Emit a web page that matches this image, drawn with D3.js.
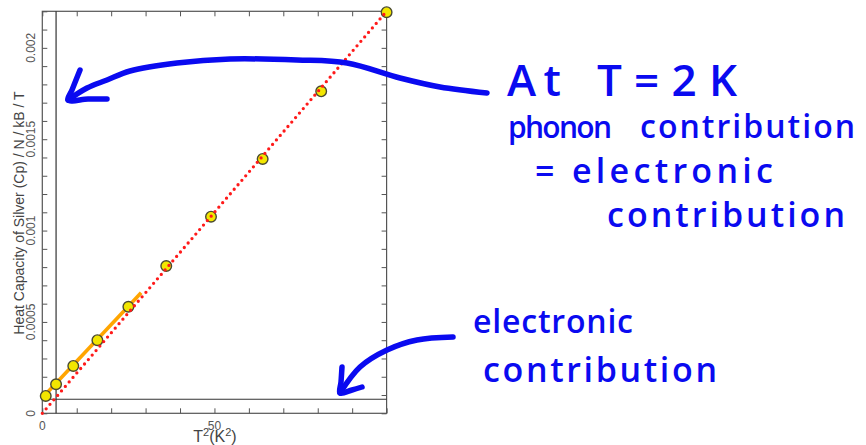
<!DOCTYPE html>
<html>
<head>
<meta charset="utf-8">
<script src="https://cdn.jsdelivr.net/npm/d3@7"></script>
<style>
  html, body { margin: 0; padding: 0; background: #ffffff; }
  svg { display: block; }
  .tick-label { font-family: "Liberation Sans", Arial, sans-serif; fill: #555; }
  .hand { font-family: "Open Sans", sans-serif; font-weight: 600; fill: #0a0af0; }
</style>
</head>
<body>
<svg id="chart" width="866" height="445"></svg>
<script>
// Measured heat capacity of silver, Cp/(N kB T) against T^2 for T = 1..10 K
const tSquared = [1, 4, 9, 16, 25, 36, 49, 64, 81, 100];
const cpOverT  = [9.5e-5, 1.59e-4, 2.59e-4, 4.0e-4, 5.83e-4, 8.06e-4, 1.076e-3, 1.392e-3, 1.762e-3, 2.195e-3];

// Low-temperature straight-line fit (gamma + beta T^2)
const fitX = [0.3, 28.7];
const fitY = [9.0e-5, 6.6e-4];

// Phonon-only reference line through the origin
const phononX = [0, 100];
const phononY = [0, 0.0022];

// Electronic contribution (gamma) and the T = 2 K marker (T^2 = 4)
const electronicLevel = 7.7e-5;
const markerT2 = 4;

// Axis labels
const xLabelValues = [0, 50];
const xLabels = ["0", "50"];
const yLabelValues = [0, 0.0005, 0.001, 0.0015, 0.002];
const yLabels = ["0", "0.0005", "0.001", "0.0015", "0.002"];

// Handwritten notes
const noteLines = [
  { text: "At", x: 507, y: 96, len: 54, size: 44 },
  { text: "T=2K", x: 597, y: 96, len: 140, size: 44 },
  { text: "phonon", x: 508, y: 138, len: 104, size: 30 },
  { text: "contribution", x: 640, y: 138, len: 215, size: 32 },
  { text: "= electronic", x: 535, y: 183, len: 238, size: 34 },
  { text: "contribution", x: 607, y: 227, len: 238, size: 34 },
  { text: "electronic", x: 473, y: 333, len: 160, size: 32 },
  { text: "contribution", x: 483, y: 382, len: 234, size: 34 }
];
// Freehand arrow strokes (screen coordinates)
const arrowStrokes = [
  [[487, 93], [440, 87], [400, 78], [347, 63], [297, 60], [230, 59], [177, 63], [130, 71], [107, 80], [87, 88], [68, 100]],
  [[80, 70], [72, 90], [68, 100], [88, 99], [107, 99]],
  [[453, 337], [417, 340], [387, 350], [360, 367], [340, 393]],
  [[342, 367], [341, 382], [340, 393], [352, 390], [362, 387]]
];

const svg = d3.select("#chart");
const x = d3.scaleLinear().domain([0, 100]).range([42.3, 386.6]);
const y = d3.scaleLinear().domain([0, 0.0022]).range([413.3, 11.3]);

const plotLeft = x(0), plotRight = x(100), plotTop = y(0.0022), plotBottom = y(0);

// Inward ticks on all four sides
function styleAxis(g) {
  g.select(".domain").remove();
  g.selectAll(".tick line").attr("stroke", "#555").attr("stroke-width", 1);
  g.selectAll(".tick text").remove();
}
const xTicks = x.ticks(10);
const yTicks = y.ticks(22);
svg.append("g").attr("transform", `translate(0,${plotBottom})`)
  .call(d3.axisBottom(x).tickValues(xTicks).tickSize(-5)).call(styleAxis);
svg.append("g").attr("transform", `translate(0,${plotTop})`)
  .call(d3.axisTop(x).tickValues(xTicks).tickSize(-5)).call(styleAxis);
svg.append("g").attr("transform", `translate(${plotLeft},0)`)
  .call(d3.axisLeft(y).tickValues(yTicks).tickSize(-5)).call(styleAxis);
svg.append("g").attr("transform", `translate(${plotRight},0)`)
  .call(d3.axisRight(y).tickValues(yTicks).tickSize(-5)).call(styleAxis);

// Frame
svg.append("rect")
  .attr("x", plotLeft).attr("y", plotTop)
  .attr("width", plotRight - plotLeft).attr("height", plotBottom - plotTop)
  .attr("fill", "none").attr("stroke", "#555").attr("stroke-width", 1.2);

// Electronic level and T = 2 K marker
svg.append("line")
  .attr("x1", plotLeft).attr("x2", plotRight)
  .attr("y1", y(electronicLevel)).attr("y2", y(electronicLevel))
  .attr("stroke", "#333").attr("stroke-width", 1.2);
svg.append("line")
  .attr("x1", x(markerT2)).attr("x2", x(markerT2))
  .attr("y1", plotTop).attr("y2", plotBottom)
  .attr("stroke", "#333").attr("stroke-width", 1.2);

// Fit line
const line = d3.line().x(d => x(d[0])).y(d => y(d[1]));
svg.append("path")
  .attr("d", line(d3.zip(fitX, fitY)))
  .attr("fill", "none").attr("stroke", "#ffa500").attr("stroke-width", 3.6);

// Data points
svg.append("g").selectAll("circle")
  .data(d3.zip(tSquared, cpOverT))
  .join("circle")
  .attr("cx", d => x(d[0])).attr("cy", d => y(d[1]))
  .attr("r", 5.3)
  .attr("fill", "#f2e600").attr("stroke", "#4a4a30").attr("stroke-width", 1.4);

// Phonon reference (dotted)
svg.append("path")
  .attr("d", line(d3.zip(phononX, phononY)))
  .attr("fill", "none").attr("stroke", "#ff1a1a").attr("stroke-width", 3.3)
  .attr("stroke-linecap", "round").attr("stroke-dasharray", "0 5.9");

// Tick labels
svg.append("g").selectAll("text")
  .data(d3.zip(xLabelValues, xLabels))
  .join("text").attr("class", "tick-label")
  .attr("x", d => x(d[0])).attr("y", 430)
  .attr("text-anchor", "middle").attr("font-size", 12)
  .text(d => d[1]);
svg.append("g").selectAll("text")
  .data(d3.zip(yLabelValues, yLabels))
  .join("text").attr("class", "tick-label")
  .attr("transform", d => `translate(35,${y(d[0])}) rotate(-90)`)
  .attr("text-anchor", "middle").attr("font-size", 12)
  .text(d => d[1]);

// Axis titles
const xt = svg.append("text").attr("class", "tick-label")
  .attr("x", 215).attr("y", 442).attr("text-anchor", "middle")
  .attr("font-size", 16).style("fill", "#444");
xt.append("tspan").text("T");
xt.append("tspan").attr("font-size", 11).attr("dy", -6).text("2");
xt.append("tspan").attr("dy", 6).text("(K");
xt.append("tspan").attr("font-size", 11).attr("dy", -6).text("2");
xt.append("tspan").attr("dy", 6).text(")");

svg.append("text").attr("class", "tick-label")
  .attr("transform", "translate(24,213) rotate(-90)")
  .attr("text-anchor", "middle").attr("font-size", 14).style("fill", "#444")
  .text("Heat Capacity of Silver (Cp) / N / kB / T");

// Notes
const pen = d3.line().curve(d3.curveCatmullRom.alpha(0.5));
svg.append("g").selectAll("path")
  .data(arrowStrokes)
  .join("path")
  .attr("d", d => pen(d))
  .attr("fill", "none").attr("stroke", "#0a0af0").attr("stroke-width", 5.5)
  .attr("stroke-linecap", "round").attr("stroke-linejoin", "round");

svg.append("g").selectAll("text")
  .data(noteLines)
  .join("text").attr("class", "hand")
  .attr("x", d => d.x).attr("y", d => d.y)
  .attr("font-size", d => d.size)
  .attr("textLength", d => d.len).attr("lengthAdjust", "spacing")
  .text(d => d.text);
</script>
</body>
</html>
